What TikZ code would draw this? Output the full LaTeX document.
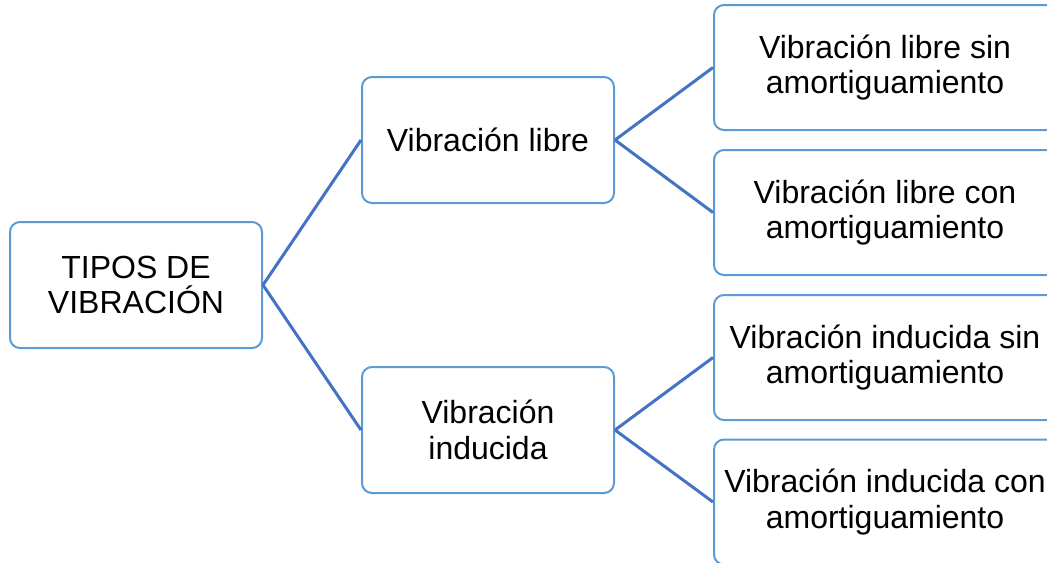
\documentclass[tikz,border=0pt]{standalone}
\usepackage{fontspec}
\setmainfont{Liberation Sans}
\definecolor{boxline}{HTML}{5B9BD5}
\definecolor{linkline}{HTML}{4472C4}

\begin{document}
\begin{tikzpicture}[x=0.75pt,y=-0.75pt,
    tipo/.style={draw=boxline, line width=1.5pt, rounded corners=7.5pt, fill=white,
      align=center, inner sep=0pt, font=\fontsize{24}{26.5}\selectfont},
    nivel/.style={tipo, minimum width=189pt, minimum height=94.5pt},
    hoja/.style={tipo, minimum width=256.5pt, minimum height=93.75pt},
    enlace/.style={draw=linkline, line width=2.25pt}]
\path[use as bounding box, clip] (0,0) rectangle (1047,562);
% first level
    \node [nivel] (tipos) at (136,285) {TIPOS DE\\VIBRACIÓN};
% second level
    \node [nivel] (libre) at (488,140) {Vibración libre};
    \node [nivel] (inducida) at (488,430) {Vibración\\inducida};
% third level
    \node [hoja] (libresin) at (885,67.5) {Vibración libre sin\\amortiguamiento};
    \node [hoja] (librecon) at (885,212.5) {Vibración libre con\\amortiguamiento};
    \node [hoja] (indsin) at (885,357.5) {Vibración inducida sin\\amortiguamiento};
    \node [hoja] (indcon) at (885,502) {Vibración inducida con\\amortiguamiento};
% links
    \draw [enlace] (tipos.east) -- (libre.west);
    \draw [enlace] (tipos.east) -- (inducida.west);
    \draw [enlace] (libre.east) -- (libresin.west);
    \draw [enlace] (libre.east) -- (librecon.west);
    \draw [enlace] (inducida.east) -- (indsin.west);
    \draw [enlace] (inducida.east) -- (indcon.west);
\end{tikzpicture}
\end{document}
